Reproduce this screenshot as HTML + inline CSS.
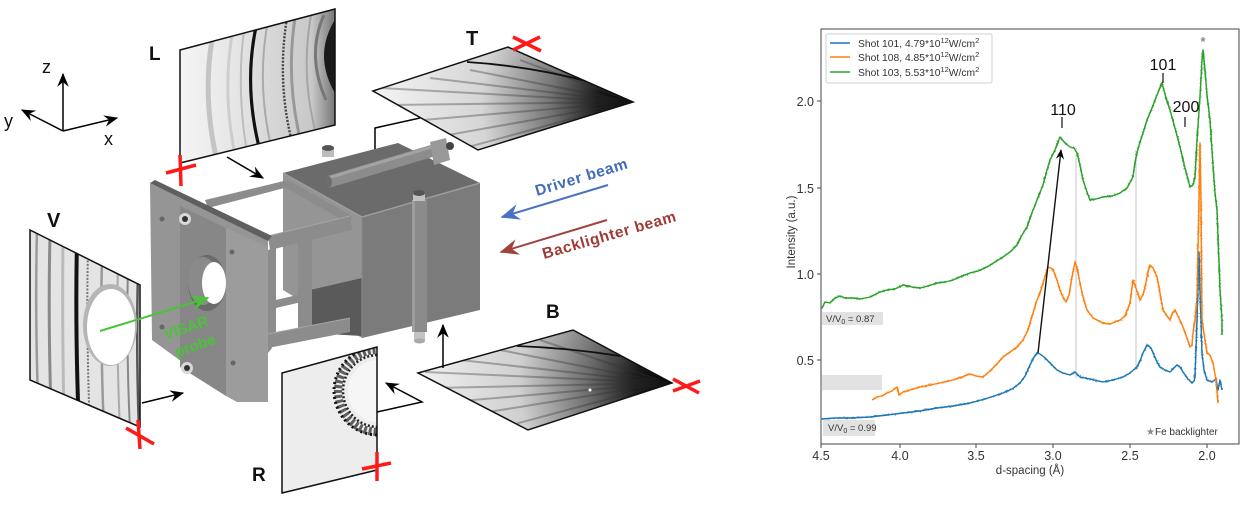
<!DOCTYPE html>
<html><head><meta charset="utf-8"><style>
html,body{margin:0;padding:0;background:#fff;}
svg{display:block;}
text{font-family:"Liberation Sans",sans-serif;}
</style></head><body>
<svg width="1250" height="506" viewBox="0 0 1250 506" xmlns="http://www.w3.org/2000/svg">
<defs>
 <marker id="ah" viewBox="0 0 12 10" refX="11" refY="5" markerWidth="14" markerHeight="12" orient="auto" markerUnits="userSpaceOnUse"><path d="M0,0 L12,5 L0,10 L4,5 z" fill="#000"/></marker>
 <marker id="ahb" viewBox="0 0 12 10" refX="11" refY="5" markerWidth="22" markerHeight="16" orient="auto" markerUnits="userSpaceOnUse"><path d="M0,0 L12,5 L0,10 L4,5 z" fill="#4a72c0"/></marker>
 <marker id="ahr" viewBox="0 0 12 10" refX="11" refY="5" markerWidth="22" markerHeight="16" orient="auto" markerUnits="userSpaceOnUse"><path d="M0,0 L12,5 L0,10 L4,5 z" fill="#a0433e"/></marker>
 <marker id="ahg" viewBox="0 0 12 10" refX="11" refY="5" markerWidth="20" markerHeight="15" orient="auto" markerUnits="userSpaceOnUse"><path d="M0,0 L12,5 L0,10 L4,5 z" fill="#4cc23a"/></marker>
 <marker id="ahp" viewBox="0 0 12 10" refX="11" refY="5" markerWidth="10" markerHeight="9" orient="auto" markerUnits="userSpaceOnUse"><path d="M0,0 L12,5 L0,10 L4,5 z" fill="#000"/></marker>

 <clipPath id="cL"><polygon points="180,50 335,9 335,125 180,163"/></clipPath>
 <clipPath id="cT"><polygon points="373,91 508,47 633,102 478,150"/></clipPath>
 <clipPath id="cB"><polygon points="418,373 573,330 672,383 528,430"/></clipPath>
 <clipPath id="cV"><polygon points="30,230 140,285 140,427 30,380"/></clipPath>
 <clipPath id="cR"><polygon points="282,373 377,347 377,470 282,493"/></clipPath>

 <linearGradient id="gL" x1="180" y1="0" x2="335" y2="0" gradientUnits="userSpaceOnUse">
  <stop offset="0" stop-color="#f4f4f4"/><stop offset="0.35" stop-color="#e6e6e6"/><stop offset="0.6" stop-color="#d6d6d6"/><stop offset="0.85" stop-color="#c8c8c8"/><stop offset="1" stop-color="#777"/>
 </linearGradient>
 <radialGradient id="gT" cx="630" cy="102" r="270" gradientUnits="userSpaceOnUse">
  <stop offset="0" stop-color="#000"/><stop offset="0.12" stop-color="#1a1a1a"/><stop offset="0.3" stop-color="#777"/><stop offset="0.55" stop-color="#d5d5d5"/><stop offset="1" stop-color="#f8f8f8"/>
 </radialGradient>
 <radialGradient id="gB" cx="668" cy="383" r="270" gradientUnits="userSpaceOnUse">
  <stop offset="0" stop-color="#000"/><stop offset="0.12" stop-color="#1a1a1a"/><stop offset="0.3" stop-color="#6e6e6e"/><stop offset="0.55" stop-color="#cfcfcf"/><stop offset="1" stop-color="#f8f8f8"/>
 </radialGradient>
 <filter id="jit" filterUnits="userSpaceOnUse" x="815" y="25" width="430" height="425">
  <feTurbulence type="fractalNoise" baseFrequency="0.6" numOctaves="1" seed="4" result="n"/>
  <feDisplacementMap in="SourceGraphic" in2="n" scale="4" xChannelSelector="R" yChannelSelector="G"/>
 </filter>
</defs>

<rect width="1250" height="506" fill="#fff"/>

<!-- ===== Axes triad ===== -->
<g stroke="#000" stroke-width="1.5" fill="none">
 <line x1="63" y1="131" x2="63" y2="74" marker-end="url(#ah)"/>
 <line x1="63" y1="131" x2="22" y2="110" marker-end="url(#ah)"/>
 <line x1="63" y1="131" x2="117" y2="118" marker-end="url(#ah)"/>
</g>
<text x="42" y="73" font-size="18" fill="#111">z</text>
<text x="4" y="127" font-size="18" fill="#111">y</text>
<text x="104" y="145" font-size="18" fill="#111">x</text>

<!-- ===== L panel ===== -->
<g clip-path="url(#cL)">
 <rect x="175" y="5" width="165" height="165" fill="url(#gL)"/>
 <path d="M212,40 Q202,100 218,165" stroke="#c4c4c4" stroke-width="5" fill="none"/>
 <path d="M232,35 Q222,95 236,160" stroke="#cdcdcd" stroke-width="3" fill="none"/>
 <path d="M244,30 Q236,92 248,158" stroke="#bdbdbd" stroke-width="2" fill="none"/>
 <path d="M257,22 Q242,88 262,158" stroke="#111" stroke-width="3.2" fill="none"/>
 <path d="M268,20 Q256,85 272,150" stroke="#aaa" stroke-width="2" fill="none"/>
 <path d="M288,12 Q276,78 292,142" stroke="#444" stroke-width="2.4" stroke-dasharray="2 1.5" fill="none"/>
 <path d="M296,12 Q285,75 300,138" stroke="#999" stroke-width="3" fill="none"/>
 <path d="M312,10 Q300,70 315,130" stroke="#a5a5a5" stroke-width="2" fill="none"/>
 <path d="M336,18 Q312,55 336,95 Z" fill="#1a1a1a"/>
 <path d="M324,15 Q306,55 326,100" stroke="#777" stroke-width="3" fill="none"/>
</g>
<polygon points="180,50 335,9 335,125 180,163" fill="none" stroke="#111" stroke-width="1.5"/>
<text x="149" y="60" font-size="19" font-weight="bold" fill="#111">L</text>
<g stroke="#ff1a1a" stroke-width="3.5"><line x1="166" y1="173" x2="196" y2="165"/><line x1="180" y1="155" x2="181" y2="186"/></g>
<line x1="227" y1="157" x2="263" y2="178" stroke="#000" stroke-width="1.5" marker-end="url(#ah)"/>

<!-- ===== T panel ===== -->
<g clip-path="url(#cT)">
 <rect x="370" y="40" width="270" height="115" fill="url(#gT)"/>
 <g stroke="#333" stroke-width="2" opacity="0.35" fill="none">
  <line x1="633" y1="102" x2="380" y2="88"/>
  <line x1="633" y1="102" x2="390" y2="105"/>
  <line x1="633" y1="102" x2="400" y2="122"/>
  <line x1="633" y1="102" x2="420" y2="140"/>
  <line x1="633" y1="102" x2="450" y2="152"/>
  <line x1="633" y1="102" x2="430" y2="78"/>
  <line x1="633" y1="102" x2="470" y2="70"/>
  <line x1="633" y1="102" x2="520" y2="60"/>
  <line x1="633" y1="102" x2="500" y2="150"/>
 </g>
 <path d="M467,62 Q530,66 590,82" stroke="#111" stroke-width="1.8" fill="none"/>
</g>
<polygon points="373,91 508,47 633,102 478,150" fill="none" stroke="#111" stroke-width="1.5"/>
<text x="466" y="45" font-size="20" font-weight="bold" fill="#111">T</text>
<g stroke="#ff1a1a" stroke-width="3.5"><line x1="513" y1="37" x2="541" y2="51"/><line x1="513" y1="50" x2="540" y2="37"/></g>
<polyline points="420,118 375,128 375,174" fill="none" stroke="#000" stroke-width="1.5" marker-end="url(#ah)"/>

<!-- ===== Apparatus ===== -->
<polygon points="283,173 362,217 362,338 283,290" fill="#959595"/>
<polygon points="310,290 362,278 362,336 310,333" fill="#5a5a5a"/>
<polygon points="362,217 480,183 480,310 362,338" fill="#7b7b7b"/>
<polygon points="283,173 398,143 480,183 362,217" fill="#6b6b6b"/>
<polyline points="283,173 362,217 480,183" fill="none" stroke="#9c9c9c" stroke-width="1.5"/>
<line x1="362" y1="217" x2="362" y2="338" stroke="#8a8a8a" stroke-width="1"/>
<line x1="328" y1="182" x2="435" y2="150" stroke="#8c8c8c" stroke-width="12" stroke-linecap="butt"/>
<line x1="328" y1="178" x2="435" y2="146" stroke="#a3a3a3" stroke-width="3"/>
<ellipse cx="328" cy="182" rx="4" ry="6" fill="#6d6d6d"/>
<polygon points="430,142 446,138 450,160 434,165" fill="#999"/>
<circle cx="450" cy="146" r="4" fill="#444"/>
<rect x="412" y="200" width="15" height="132" fill="#8b8b8b"/>
<rect x="412" y="200" width="3" height="132" fill="#9d9d9d"/>
<g>
 <rect x="322" y="148" width="12" height="9" fill="#bdbdbd"/><ellipse cx="328" cy="148" rx="6" ry="3" fill="#555"/>
 <rect x="413" y="192" width="12" height="9" fill="#c2c2c2"/><ellipse cx="419" cy="193" rx="6" ry="3" fill="#555"/>
 <rect x="414" y="332" width="11" height="9" fill="#c2c2c2"/><ellipse cx="419.5" cy="341" rx="5.5" ry="2.5" fill="#aaa"/>
</g>
<g fill="#8c8c8c">
 <polygon points="205,200 288,180 292,186 208,208"/>
 <polygon points="268,236 350,216 352,230 270,250"/>
 <polygon points="288,180 352,216 350,224 286,188"/>
 <polygon points="268,250 276,248 276,338 268,340"/>
 <polygon points="298,243 312,240 312,332 298,335"/>
 <polygon points="268,334 350,318 350,332 268,348"/>
 <polygon points="240,370 268,340 272,348 246,380"/>
 <polygon points="276,300 310,292 310,300 276,308"/>
</g>
<g stroke="#a5a5a5" stroke-width="1"><line x1="268" y1="236" x2="350" y2="216"/><line x1="268" y1="334" x2="350" y2="318"/></g>
<polygon points="150,183 268,240 268,402 237,402 152,340" fill="#959595"/>
<polygon points="150,183 155,180 272,236 268,241" fill="#5f5f5f"/>
<polygon points="226,228 268,247 268,402 237,402 226,396" fill="#9c9c9c"/>
<polygon points="180,206 226,228 226,396 180,367" fill="#878787"/>
<ellipse cx="207" cy="283" rx="19" ry="28" fill="#6a6a6a"/>
<ellipse cx="203" cy="281" rx="15" ry="24" fill="#8a8a8a"/>
<ellipse cx="214" cy="283" rx="12" ry="21" fill="#fff"/>
<circle cx="162" cy="219" r="2.5" fill="#666"/>
<circle cx="232" cy="252" r="2.5" fill="#666"/>
<circle cx="162" cy="327" r="2.5" fill="#666"/>
<circle cx="233" cy="363" r="2.5" fill="#666"/>
<circle cx="185" cy="219" r="6" fill="#d8d8d8"/><circle cx="185" cy="219" r="3" fill="#333"/>
<circle cx="187" cy="368" r="6" fill="#d8d8d8"/><circle cx="187" cy="368" r="3" fill="#333"/>

<!-- ===== Beams ===== -->
<line x1="608" y1="185" x2="502" y2="217" stroke="#4a72c0" stroke-width="2" marker-end="url(#ahb)"/>
<text transform="translate(537,196) rotate(-17)" font-size="15.5" font-weight="bold" fill="#3f6bb8" letter-spacing="0.6">Driver  beam</text>
<line x1="607" y1="220" x2="501" y2="252" stroke="#a0433e" stroke-width="2" marker-end="url(#ahr)"/>
<text transform="translate(544,259) rotate(-16)" font-size="15.5" font-weight="bold" fill="#9e3b36" letter-spacing="0.6">Backlighter beam</text>

<!-- ===== V panel ===== -->
<g clip-path="url(#cV)">
 <rect x="25" y="225" width="120" height="210" fill="#e4e4e4"/>
 <g fill="none">
  <path d="M37,230 Q35,310 38,400" stroke="#9a9a9a" stroke-width="2.5"/>
  <path d="M50,235 Q48,315 51,410" stroke="#8a8a8a" stroke-width="3"/>
  <path d="M63,240 Q62,320 64,420" stroke="#bbb" stroke-width="3"/>
  <path d="M77,240 Q75,330 79,430" stroke="#111" stroke-width="4"/>
  <path d="M88,250 Q86,330 90,430" stroke="#777" stroke-width="2" stroke-dasharray="2 1.5"/>
  <path d="M102,255 Q100,340 104,430" stroke="#999" stroke-width="2.5"/>
  <path d="M118,260 Q116,340 120,430" stroke="#aaa" stroke-width="2"/>
  <path d="M128,265 Q126,345 130,430" stroke="#888" stroke-width="2"/>
  <path d="M138,270 Q136,350 139,430" stroke="#555" stroke-width="2.5"/>
 </g>
 <ellipse cx="110" cy="325" rx="27" ry="41" fill="#b5b5b5"/>
 <ellipse cx="111" cy="327" rx="24" ry="38" fill="#fff"/>
 <circle cx="122" cy="422" r="3" fill="#111"/>
</g>
<polygon points="30,230 140,285 140,427 30,380" fill="none" stroke="#111" stroke-width="1.5"/>
<text x="47" y="227" font-size="20" font-weight="bold" fill="#111">V</text>
<g stroke="#ff1a1a" stroke-width="3.5"><line x1="138" y1="420" x2="140" y2="449"/><line x1="126" y1="428" x2="154" y2="444"/></g>
<line x1="142" y1="403" x2="183" y2="393" stroke="#000" stroke-width="1.5" marker-end="url(#ah)"/>
<line x1="100" y1="331" x2="208" y2="298" stroke="#4cc23a" stroke-width="2" marker-end="url(#ahg)"/>
<text transform="translate(166,340) rotate(-19)" font-size="15" font-weight="bold" fill="#4cc23a">VISAR</text>
<text transform="translate(177,357) rotate(-19)" font-size="15" font-weight="bold" fill="#4cc23a">probe</text>

<!-- ===== R panel ===== -->
<g clip-path="url(#cR)">
 <rect x="280" y="345" width="100" height="150" fill="#ededed"/>
 <ellipse cx="378" cy="391" rx="40" ry="41" fill="none" stroke="#444" stroke-width="8" stroke-dasharray="3 2" opacity="0.85"/>
 <ellipse cx="378" cy="391" rx="44" ry="44" fill="none" stroke="#111" stroke-width="3" stroke-dasharray="2 3"/>
 <ellipse cx="378" cy="391" rx="35" ry="36" fill="none" stroke="#222" stroke-width="2.5" stroke-dasharray="2 2"/>
 <ellipse cx="378" cy="391" rx="30" ry="31" fill="#f6f6f6"/>
</g>
<polygon points="282,373 377,347 377,470 282,493" fill="none" stroke="#111" stroke-width="1.5"/>
<text x="252" y="481" font-size="19" font-weight="bold" fill="#111">R</text>
<g stroke="#ff1a1a" stroke-width="3.5"><line x1="377" y1="452" x2="377" y2="481"/><line x1="362" y1="469" x2="391" y2="463"/></g>
<polyline points="377,412 422,402 386,383" fill="none" stroke="#000" stroke-width="1.5" marker-end="url(#ah)"/>

<!-- ===== B panel ===== -->
<g clip-path="url(#cB)">
 <rect x="415" y="325" width="265" height="110" fill="url(#gB)"/>
 <g stroke="#333" stroke-width="2" opacity="0.35" fill="none">
  <line x1="668" y1="383" x2="425" y2="372"/>
  <line x1="668" y1="383" x2="435" y2="388"/>
  <line x1="668" y1="383" x2="450" y2="402"/>
  <line x1="668" y1="383" x2="470" y2="415"/>
  <line x1="668" y1="383" x2="500" y2="428"/>
  <line x1="668" y1="383" x2="460" y2="360"/>
  <line x1="668" y1="383" x2="500" y2="350"/>
  <line x1="668" y1="383" x2="540" y2="340"/>
 </g>
 <path d="M517,346 Q570,348 620,356" stroke="#111" stroke-width="1.8" fill="none"/>
 <circle cx="590" cy="390" r="1.5" fill="#fff"/>
</g>
<polygon points="418,373 573,330 672,383 528,430" fill="none" stroke="#111" stroke-width="1.5"/>
<text x="546" y="318" font-size="19" font-weight="bold" fill="#111">B</text>
<g stroke="#ff1a1a" stroke-width="3.5"><line x1="673" y1="379" x2="699" y2="393"/><line x1="673" y1="391" x2="700" y2="381"/></g>
<line x1="443" y1="368" x2="443" y2="325" stroke="#000" stroke-width="1.5" marker-end="url(#ah)"/>

<!-- ===== PLOT ===== -->
<rect x="821" y="29" width="418" height="415" fill="none" stroke="#444" stroke-width="1"/>
<g stroke="#444" stroke-width="1">
 <line x1="817" y1="101" x2="821" y2="101"/><line x1="817" y1="188" x2="821" y2="188"/>
 <line x1="817" y1="274" x2="821" y2="274"/><line x1="817" y1="360" x2="821" y2="360"/>
 <line x1="821" y1="444" x2="821" y2="448"/><line x1="900" y1="444" x2="900" y2="448"/>
 <line x1="976" y1="444" x2="976" y2="448"/><line x1="1053" y1="444" x2="1053" y2="448"/>
 <line x1="1130" y1="444" x2="1130" y2="448"/><line x1="1207" y1="444" x2="1207" y2="448"/>
</g>
<g font-size="12.5" fill="#333" text-anchor="end">
 <text x="814" y="106">2.0</text><text x="814" y="193">1.5</text>
 <text x="814" y="279">1.0</text><text x="814" y="365">0.5</text>
</g>
<g font-size="12.5" fill="#333" text-anchor="middle">
 <text x="821" y="460">4.5</text><text x="900" y="460">4.0</text><text x="976" y="460">3.5</text>
 <text x="1053" y="460">3.0</text><text x="1130" y="460">2.5</text><text x="1207" y="460">2.0</text>
</g>
<text x="1030" y="474" font-size="11.5" fill="#333" text-anchor="middle">d-spacing (Å)</text>
<text transform="translate(795,232) rotate(-90)" font-size="11.5" fill="#333" text-anchor="middle">Intensity (a.u.)</text>

<line x1="1076" y1="155" x2="1076" y2="378" stroke="#c4c4c4" stroke-width="1"/>
<line x1="1136" y1="150" x2="1136" y2="370" stroke="#c4c4c4" stroke-width="1"/>

<rect x="822" y="312" width="61" height="13" fill="#e2e2e2"/>
<text x="826" y="322" font-size="9.5" fill="#333">V/V<tspan font-size="7" dy="2">0</tspan><tspan dy="-2"> = 0.87</tspan></text>
<rect x="822" y="375" width="60" height="15" fill="#e2e2e2"/>
<rect x="823" y="420" width="52" height="16" fill="#e2e2e2"/>
<text x="828" y="431" font-size="9.5" fill="#333">V/V<tspan font-size="7" dy="2">0</tspan><tspan dy="-2"> = 0.99</tspan></text>
<text x="1146" y="435" font-size="10" fill="#333"><tspan fill="#888">★</tspan>Fe backlighter</text>

<!-- curves -->
<g id="curves" fill="none" stroke-width="1.4" stroke-linejoin="round">
<polyline id="cb" stroke="#1f77b4" points="822,419 835,418 850,418 870,417 887,415 903,413 920,411 937,408 953,406 970,403 985,399 1003,393 1012,389 1020,383 1025,376 1030,365 1034,357 1037,353 1040,354 1044,357 1047,360 1052,365 1057,370 1063,373 1070,375 1075,372 1077,374 1080,377 1090,379 1103,382 1113,380 1123,377 1130,373 1137,367 1140,361 1143,353 1147,345 1150,347 1152,350 1156,360 1160,367 1165,370 1170,372 1174,368 1177,365 1180,367 1183,372 1188,379 1192,383 1194,381 1195,377 1197,320 1199,252 1200,290 1202,353 1204,370 1207,380 1212,382 1216,379 1218,390 1220,380 1222,390"/>
<polyline id="co" stroke="#ff7f0e" points="872,400 877,397 882,396 887,393 892,391 897,387 899,395 903,392 910,390 920,387 930,385 940,383 953,380 962,377 970,374 976,376 983,377 990,371 997,364 1003,357 1010,352 1017,347 1023,340 1028,330 1033,313 1037,300 1040,293 1044,280 1048,267 1051,268 1053,270 1057,280 1060,290 1063,297 1066,302 1069,295 1072,277 1075,262 1077,268 1080,283 1083,297 1087,310 1093,318 1103,323 1110,324 1120,320 1125,316 1130,303 1133,280 1136,288 1140,300 1143,295 1145,287 1148,272 1150,265 1153,268 1157,277 1160,293 1163,310 1167,316 1170,320 1172,314 1175,310 1178,316 1183,327 1187,338 1190,347 1192,345 1193,333 1195,320 1197,297 1199,200 1200,143 1201,200 1202,320 1205,340 1207,353 1210,355 1213,363 1216,380 1218,403"/>
<polyline id="cg" stroke="#2ca02c" points="822,308 825,302 830,303 835,298 840,296 845,298 853,298 860,299 870,297 880,292 887,290 895,289 903,285 912,287 920,288 928,286 937,283 945,282 953,280 962,276 970,273 978,271 987,267 995,262 1003,257 1010,252 1017,245 1022,235 1027,227 1030,218 1037,200 1043,185 1047,170 1050,160 1055,150 1060,137 1065,143 1070,147 1074,148 1077,153 1080,165 1083,180 1087,192 1090,200 1096,199 1103,197 1112,196 1120,193 1127,188 1133,177 1135,162 1137,153 1140,142 1144,130 1147,120 1152,108 1157,95 1162,83 1166,98 1170,110 1175,128 1180,147 1185,168 1190,187 1193,185 1195,177 1197,140 1200,97 1202,60 1203,50 1205,70 1207,95 1210,120 1213,165 1215,193 1217,210 1218,237 1220,290 1222,320 1222,335"/>
</g>
<g filter="url(#jit)" opacity="0.8" stroke-width="1.3" fill="none">
 <use href="#cb"/><use href="#co"/><use href="#cg"/>
</g>

<line x1="1038" y1="353" x2="1061" y2="150" stroke="#111" stroke-width="1.4" marker-end="url(#ahp)"/>

<g font-size="16" fill="#111" text-anchor="middle">
 <text x="1063" y="115">110</text>
 <text x="1163" y="70">101</text>
 <text x="1186" y="112">200</text>
</g>
<g stroke="#111" stroke-width="1.2">
 <line x1="1062" y1="117" x2="1062" y2="128"/>
 <line x1="1163" y1="73" x2="1163" y2="83"/>
 <line x1="1185" y1="117" x2="1185" y2="127"/>
</g>
<text x="1203" y="46" font-size="13" fill="#888" text-anchor="middle" font-weight="bold">*</text>

<rect x="826" y="34" width="166" height="49" rx="2" fill="#fff" fill-opacity="0.9" stroke="#d0d0d0" stroke-width="1"/>
<g stroke-width="1.5">
 <line x1="830" y1="43" x2="850" y2="43" stroke="#1f77b4"/>
 <line x1="830" y1="57" x2="850" y2="57" stroke="#ff7f0e"/>
 <line x1="830" y1="72" x2="850" y2="72" stroke="#2ca02c"/>
</g>
<g font-size="10.3" fill="#333">
 <text x="858" y="47">Shot 101, 4.79*10<tspan font-size="7.5" dy="-4">12</tspan><tspan dy="4">W/cm</tspan><tspan font-size="7.5" dy="-4">2</tspan></text>
 <text x="858" y="61">Shot 108, 4.85*10<tspan font-size="7.5" dy="-4">12</tspan><tspan dy="4">W/cm</tspan><tspan font-size="7.5" dy="-4">2</tspan></text>
 <text x="858" y="76">Shot 103, 5.53*10<tspan font-size="7.5" dy="-4">12</tspan><tspan dy="4">W/cm</tspan><tspan font-size="7.5" dy="-4">2</tspan></text>
</g>
</svg>
</body></html>
